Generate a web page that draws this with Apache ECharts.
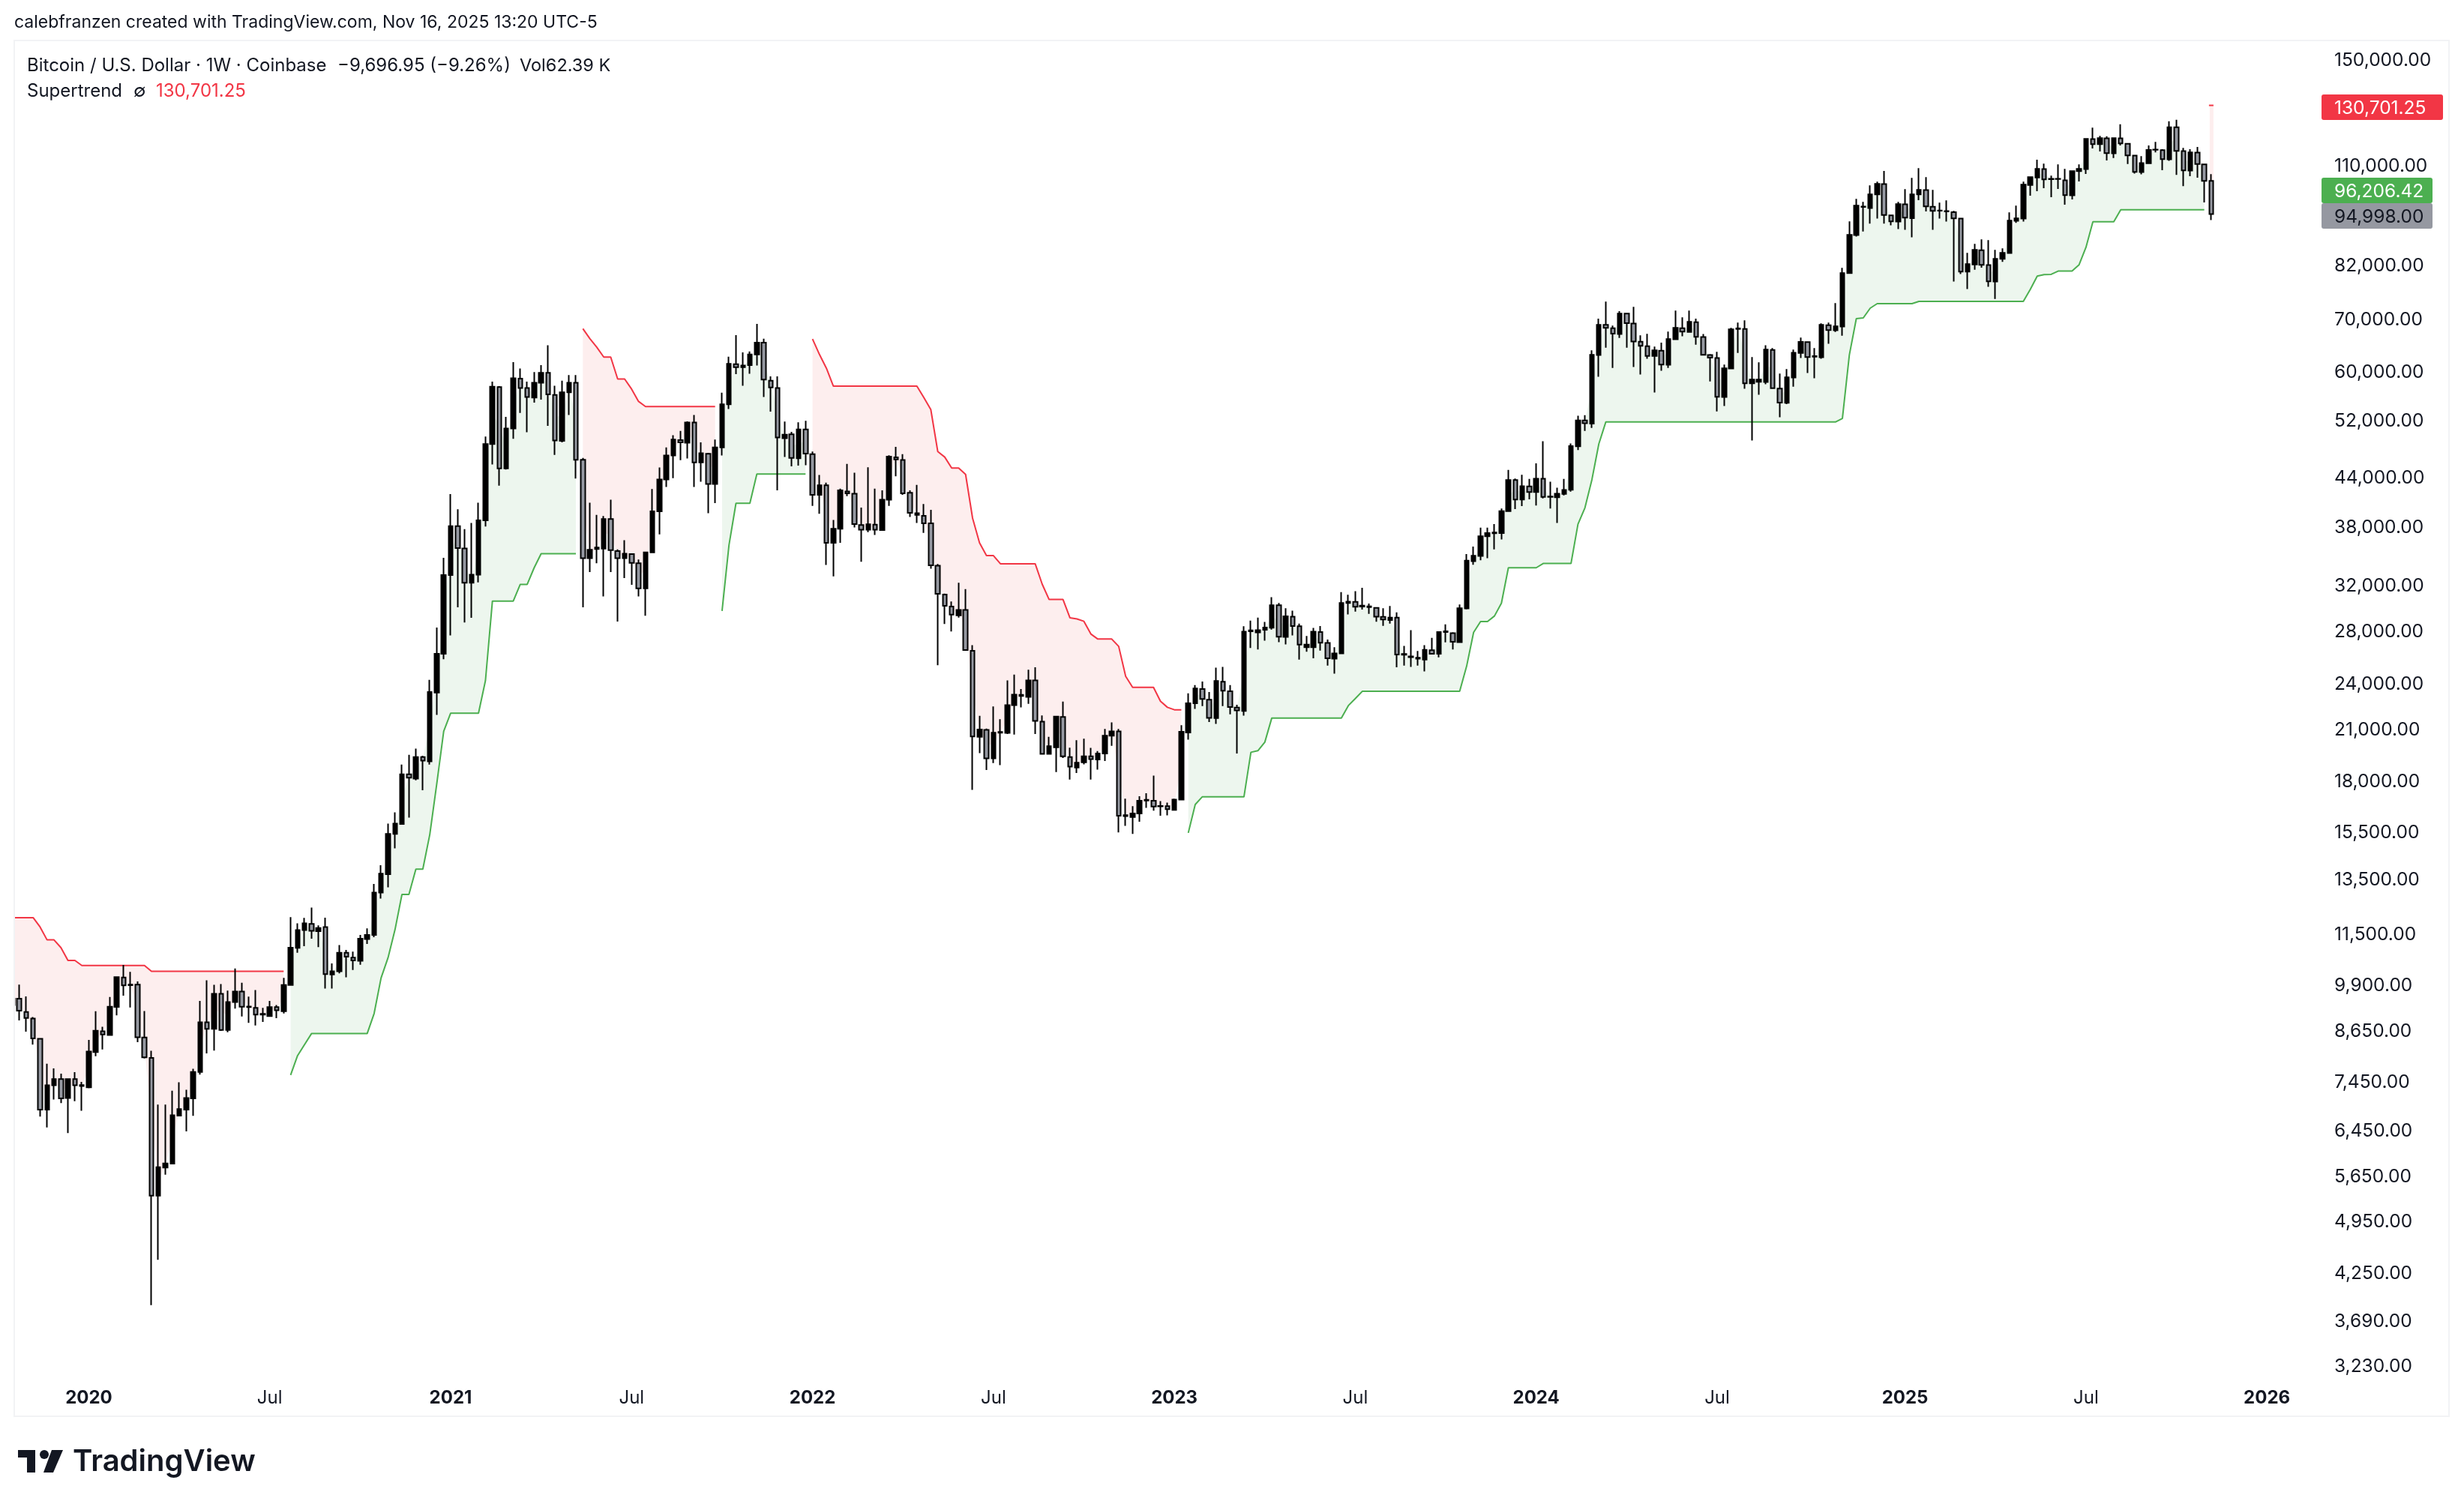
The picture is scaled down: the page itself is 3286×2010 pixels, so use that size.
<!DOCTYPE html>
<html>
<head>
<meta charset="utf-8">
<title>BTCUSD weekly</title>
<script src="https://cdn.jsdelivr.net/npm/echarts@6/dist/echarts.min.js"></script>
<style>
  html, body { margin: 0; padding: 0; background: #fff; }
  #chart { width: 3286px; height: 2010px; }
</style>
</head>
<body>
<div id="chart"></div>
<script>
// weekly candles: [open, close, low, high]
// the first week sits just outside the frame, only its supertrend shows
const candles = [
  [9300,9475,9100,9600],
  [9475,9146,8890,9875],[9110,8950,8600,9535],[8935,8430,8280,8975],[8420,6840,6700,8420],[6840,7345,6490,7825],
  [7345,7480,7045,7720],[7480,7070,6970,7600],[7075,7480,6385,7480],[7480,7345,7010,7635],[7330,7350,6815,7420],
  [7300,8110,7280,8395],[8100,8625,8000,9130],[8610,8530,8160,8725],[8515,9255,8510,9520],[9250,10095,9020,10110],
  [10085,9850,9557,10460],[9855,9875,9230,10250],[9875,8460,8340,9965],[8455,7975,7950,9135],[7960,5310,3850,8130],
  [5310,5775,4400,6940],[5770,5840,5650,6940],[5835,6725,5835,7230],[6720,6850,6710,7410],[6840,7075,6415,7250],
  [7070,7640,6715,7710],[7640,8840,7580,9410],[8840,8670,8065,10000],[8670,9610,8135,9870],[9610,8640,8620,9890],
  [8640,9380,8585,9700],[9380,9675,9200,10350],[9675,9255,8990,9930],[9240,9260,8825,9530],[9220,9040,8755,9715],
  [9040,9060,8850,9220],[9000,9240,8990,9410],[9240,9155,8945,9300],[9130,9865,9070,10070],[9865,11005,9860,12040],
  [11000,11590,10845,11820],[11590,11820,11055,12010],[11800,11565,11300,12380],[11550,11660,11025,11750],[11690,10185,9760,12020],
  [10170,10265,9760,10510],[10270,10845,10205,11090],[10845,10720,10090,10935],[10690,10600,10310,10880],[10590,11300,10470,11425],
  [11290,11425,11130,11650],[11425,12940,11350,13270],[12940,13680,12710,14020],[13660,15375,13140,15845],[15375,15845,14735,16375],
  [15825,18315,15790,18850],[18315,18130,16125,19390],[18085,19270,17995,19755],[19270,19070,17480,19340],[19020,23320,18850,24180],
  [23290,26090,21810,28190],[26090,32885,25690,34595],[32885,37980,27550,41715],[37980,35610,29910,39890],[35560,32150,28615,37640],
  [32150,32925,29010,38320],[32925,38620,32190,40680],[38620,48330,37930,49400],[48330,57200,45500,58060],[57130,44990,42770,57300],
  [44990,50600,44830,52350],[50600,58630,49080,61480],[58560,56990,52960,60330],[56990,55485,50030,58060],[55410,57850,54570,59720],
  [57850,59570,55050,60940],[59570,55915,50980,64590],[55840,48830,46800,57350],[48770,56270,48580,58200],[56270,57850,52620,59180],
  [57850,46150,43660,59180],[46150,34550,29910,46390],[34550,35420,33170,40680],[35500,35650,34040,39255],[35550,38770,30890,39110],
  [38770,35380,33170,41030],[35290,34550,28690,35470],[34550,35020,32600,36440],[34980,34080,31950,35050],[34040,31620,30890,34430],
  [31620,35150,29190,35200],[35150,39650,35100,42340],[39650,43550,37070,45100],[43550,46740,42600,47860],[46740,48960,43710,49590],
  [48900,48580,46090,50220],[48520,51480,46320,51670],[51480,45790,42600,52620],[45790,47030,43270,48580],[46970,42990,39450,47100],
  [42990,47860,40630,48960],[47860,54300,46740,56200],[54300,61170,53570,62470],[61090,60560,59340,66540],[60560,60870,57350,63270],
  [60940,62870,59420,63430],[62870,65080,60870,68800],[65080,58420,55490,65870],[58200,57060,53150,58940],[56990,49280,42170,58940],
  [49170,49670,46525,51625],[49720,46385,45265,50080],[46340,50440,45360,51520],[50440,46990,45410,51730],[46900,41630,40290,47270],
  [41630,42810,39380,44120],[42810,36150,33880,43150],[36150,37680,32760,38660],[37680,42180,36150,42390],[42050,41800,41460,45590],
  [41760,38210,37830,44430],[38100,37570,34190,40090],[37570,38170,37300,45130],[38130,37570,37000,42390],[37530,41040,37450,42180],
  [41040,46570,40290,46760],[46480,46200,43960,47930],[46110,41800,41630,46900],[41880,39480,39010,42180],[39250,39440,38320,42850],
  [39130,38280,37220,40530],[38280,33840,33500,39830],[33810,31120,25240,33980],[31050,30040,28480,31150],[29980,29280,27860,30430],
  [29220,29690,29020,32160],[29690,26390,26330,31550],[26330,20470,17500,26760],[20450,20890,19490,21750],[20870,19190,18550,20950],
  [19190,20700,18930,22360],[20700,20740,18820,21530],[20680,22440,20620,24130],[22440,23150,20580,24550],[23050,23130,22290,23530],
  [22990,24130,22530,24900],[24130,21430,20620,25080],[21380,19450,19430,21770],[19450,19890,19410,20450],[19830,21700,18440,21750],
  [21680,19310,19210,22680],[19270,18730,18030,19810],[18680,18950,18390,20250],[18970,19310,18860,20330],[19310,19150,18030,19790],
  [19130,19470,18570,19610],[19470,20510,19050,20930],[20510,20780,19910,21330],[20780,16220,15440,20930],[16200,16240,15740,17050],
  [16150,16320,15370,16680],[16320,16950,15930,17170],[16960,16990,16600,17320],[16950,16660,16460,18240],[16670,16690,16220,16930],
  [16680,16530,16230,16850],[16500,17000,16460,17050],[17000,20750,16990,21160],[20710,22570,20280,23230],[22570,23570,22190,23800],
  [23530,22850,22380,24050],[22800,21620,21360,23320],[21600,24100,21240,25050],[24040,23420,22380,25110],[23380,22320,21850,23800],
  [22280,22100,19470,22470],[22060,27850,21760,28290],[27880,27950,26540,28770],[27780,27970,26430,29020],[28000,28190,27120,28650],
  [28170,30090,28020,30825],[30090,27440,27010,30290],[27420,29130,26830,29840],[29100,28310,27550,29620],[28290,26810,25660,28510],
  [26610,26810,26250,27500],[26610,27850,25750,28160],[27820,26960,26340,28310],[26940,25750,25200,27210],[25730,26130,24620,26610],
  [26130,30290,26100,31280],[30290,30420,29300,31040],[30400,29960,29540,31360],[29980,30060,29720,31680],[29930,29990,29350,30240],
  [29860,29100,28670,29910],[29080,28870,28330,29840],[28820,29020,28520,30030],[29020,26040,25080,29470],[26030,26080,25200,26700],
  [25840,25900,25110,27970],[25730,25790,25200,26320],[25660,26400,24780,26760],[26370,26100,26050,27340],[26100,27820,25820,27870],
  [27820,27880,26990,28460],[27730,27030,26430,27800],[27010,29840,26990,30160],[29810,34320,29740,34980],[34260,34810,33890,35760],
  [34780,36860,34350,37800],[36860,37210,34550,37800],[37180,37260,35460,38210],[37210,39690,36520,39980],[39690,43490,39650,44790],
  [43490,41060,39920,43680],[41060,42700,40270,44160],[42670,41970,41090,43620],[41970,43640,40340,45670],[43640,41370,41190,48720],
  [41370,41420,39990,43260],[41320,41770,38320,42510],[41740,42220,41560,43620],[42260,48040,42010,48400],[48000,51800,47470,52520],
  [51800,51380,50220,52600],[51320,62810,50670,63650],[62760,68580,58880,69850],[68580,67980,64150,73450],[67930,66850,60450,68430],
  [66750,70880,66010,71410],[70880,68940,64150,71000],[68840,65330,60600,72300],[65280,64480,59270,66500],[64430,62610,62080,66800],
  [62610,63630,56220,64340],[63580,61030,59930,65080],[60990,65780,60450,67240],[65730,67980,65680,71510],[67930,67240,66310,70110],
  [67190,69190,67150,71510],[69140,66220,64720,69850],[66170,62810,62760,66750],[62760,62300,58100,62950],[62210,55520,53200,63370],
  [55480,60380,54040,61030],[60330,67680,60290,67980],[67780,67880,63160,69040],[67780,57760,56840,69500],[57760,58400,48840,62390],
  [58020,58400,55850,61440],[57980,63770,57600,64610],[63720,56930,56840,64050],[56880,54580,52290,59440],[54540,58800,54350,60230],
  [58760,63200,57210,63770],[63160,65250,62210,66060],[65200,62390,59530,65260],[62480,62560,58620,64060],[62350,68580,62080,68890],
  [68530,67540,64880,69040],[67490,68280,67190,73100],[68250,79860,66450,81090],[79860,89360,79800,92960],[89300,97360,88900,99300],
  [97000,97080,90260,98430],[96650,100620,92370,103300],[100620,103780,93710,104470],[103700,94700,92370,107800],[94620,92960,91890,94700],
  [92900,97780,90860,98430],[97710,93990,90660,102200],[93850,100620,88700,105620],[100620,101970,98940,108700],[101900,97130,95720,105850],
  [97060,95860,90660,101970],[95900,96000,93710,98220],[95730,95800,92900,98870],[95520,93780,77880,95860],[93710,80210,79620,93780],
  [80210,81990,76190,84750],[81920,85490,80670,87020],[85420,81810,81150,88180],[81750,77930,76690,87980],[77880,83260,74000,85490],
  [83260,84750,82550,85870],[84690,93160,84640,95460],[93110,93780,92560,97360],[93710,103530,92900,104470],[103450,105850,100260,106100],
  [105770,108460,101590,111430],[108380,105150,102480,110150],[105230,105320,99820,106320],[105250,105350,102250,109900],[104850,100410,97640,108460],
  [100340,107750,99140,108000],[107750,108460,104540,109900],[108380,118460,106880,118720],[118380,116620,115190,122420],[116620,118720,114170,119500],
  [118630,113580,111150,119340],[113500,118720,111950,118800],[118630,116880,116200,123650],[116790,112830,109990,116880],[112750,107500,106950,112900],
  [107430,110340,106720,112580],[110260,114680,110000,116200],[114700,114800,113830,117400],[114600,111600,108060,114920],[111520,122580,111030,124760],
  [122580,114340,106550,125320],[114260,107990,103080,115360],[107900,113830,106170,114920],[113750,109990,105700,115690],[109900,104695,98280,110150],
  [104695,94998,93300,106800]
];

const n = null;
// supertrend, one value per candle, n where the other side is active
const trendDown = [
  12020,
  12020,12020,12020,11695,11260,11260,11005,10600,10600,10445,
  10445,10445,10445,10445,10445,10445,10445,10445,10445,
  10265,10265,10265,10265,10265,10265,10265,10265,10265,10265,
  10265,10265,10265,10265,10265,10265,10265,10265,10265,10265,
  n,n,n,n,n,n,n,n,n,n,n,n,n,n,n,n,n,n,n,n,n,n,n,n,n,n,n,n,n,n,n,n,n,n,n,n,n,n,n,n,n,n,
  67820,65870,64230,62390,62390,58500,58500,56800,54770,53960,
  53960,53960,53960,53960,53960,53960,53960,53960,53960,53960,
  n,n,n,n,n,n,n,n,n,n,n,n,n,
  65800,62870,60370,57280,57280,57280,57280,57280,57280,57280,57280,57280,57280,57280,57280,57280,
  55400,53480,47270,46510,45030,45030,44200,38880,36160,34820,34820,
  34000,34000,34000,34000,34000,34000,32030,30610,30610,30610,
  29000,28910,28710,27660,27250,27250,27250,26670,24430,23650,23650,23650,23650,22700,22300,22140,22140,
  n,n,n,n,n,n,n,n,n,n,n,n,n,n,n,n,n,n,n,n,n,n,n,n,n,n,n,n,n,n,n,n,n,n,n,n,n,n,n,n,n,n,n,n,n,n,n,n,n,n,
  n,n,n,n,n,n,n,n,n,n,n,n,n,n,n,n,n,n,n,n,n,n,n,n,n,n,n,n,n,n,n,n,n,n,n,n,n,n,n,n,n,n,n,n,n,n,n,n,n,n,
  n,n,n,n,n,n,n,n,n,n,n,n,n,n,n,n,n,n,n,n,n,n,n,n,n,n,n,n,n,n,n,n,n,n,n,n,n,n,n,n,n,n,n,n,n,n,n,
  130701.25
];
const trendUp = [
  n,
  n,n,n,n,n,n,n,n,n,n,n,n,n,n,n,n,n,n,n,n,n,n,n,n,n,n,n,n,n,n,n,n,n,n,n,n,n,n,n,
  7570,8015,8280,8550,8550,8550,8550,8550,8550,8550,8550,8550,
  9070,10070,10685,11600,12870,12870,13860,13860,15345,17800,20780,21920,21920,21920,21920,21920,
  24120,30470,30470,30470,30470,32000,32000,33600,35015,35015,35015,35015,35015,35015,
  n,n,n,n,n,n,n,n,n,n,n,n,n,n,n,n,n,n,n,n,
  29600,35920,40610,40610,40610,44260,44260,44260,44260,44260,44260,44260,44260,
  n,n,n,n,n,n,n,n,n,n,n,n,n,n,n,n,n,n,n,n,n,n,n,n,n,n,n,n,n,n,n,n,n,n,n,n,n,n,n,n,n,n,n,n,n,n,n,n,n,n,n,n,n,n,
  15420,16760,17140,17140,17140,17140,17140,17140,17140,19540,19630,20130,21610,
  21610,21610,21610,21610,21610,21610,21610,21610,21610,21610,
  22410,22880,23370,23370,23370,23370,23370,23370,23370,23370,23370,23370,23370,23370,23370,23370,23370,
  25160,27790,28690,28690,29160,30280,33600,33600,33600,33600,33600,34020,34020,34020,34020,34020,
  38190,40070,43510,48350,51560,
  51560,51560,51560,51560,51560,51560,51560,51560,51560,51560,51560,
  51560,51560,51560,51560,51560,51560,51560,51560,51560,51560,51560,
  51560,51560,51560,51560,51560,51560,51560,51560,51560,51560,51560,
  52090,62790,69850,70010,72040,73000,73000,73000,73000,73000,73000,
  73490,73490,73490,73490,73490,73490,73490,73490,73490,73490,73490,73490,73490,73490,73490,73490,
  76120,79140,79490,79560,80320,80320,80320,81800,86120,92860,92860,92860,92860,
  96206,96206,96206,96206,96206,96206,96206,96206,96206,96206,96206,96206,96206,
  n
];

const priceTicks = [150000,110000,82000,70000,60000,52000,44000,38000,32000,28000,24000,21000,18000,15500,13500,11500,9900,8650,7450,6450,5650,4950,4250,3690,3230];
const timeTickDates = ['2020-01-06','2020-07-06','2021-01-04','2021-07-05','2022-01-03','2022-07-04','2023-01-02','2023-07-03','2024-01-01','2024-07-01','2025-01-06','2025-07-07','2026-01-05'];
const timeTickLabels = ['2020','Jul','2021','Jul','2022','Jul','2023','Jul','2024','Jul','2025','Jul','2026'];

const fontName = 'Inter';
const textColor = '#131722';
const slotCount = 333;

// week starts, the right part of the axis stays empty like the chart's margin
let weeks = [];
for (let i = 0; i < slotCount; i++) {
  weeks.push(new Date(Date.UTC(2019, 9, 21 + i * 7)).toISOString().slice(0, 10));
}

// one [first, last] pair for each unbroken run of a supertrend line
function runs(line) {
  let out = [];
  let start = -1;
  line.forEach((v, i) => {
    if (v != null && start < 0) start = i;
    if (v != null && (i === line.length - 1 || line[i + 1] == null)) {
      out.push([start, i]);
      start = -1;
    }
  });
  return out;
}

// shaded band between the line and the middle of the candle bodies
function bandSeries(name, line, fillColor, lineColor) {
  return {
    name: name,
    type: 'custom',
    silent: true,
    z: 1,
    data: runs(line),
    encode: { x: 0 },
    renderItem(params, api) {
      let first = api.value(0);
      let last = api.value(1);
      if (first === last) {  // a run of one week is only a short mark
        let top = api.coord([first, line[first]]);
        let bottom = api.coord([first, (candles[first][0] + candles[first][1]) / 2]);
        return {
          type: 'group',
          children: [
            { type: 'rect', shape: { x: top[0] - 2, y: top[1], width: 5, height: bottom[1] - top[1] }, style: { fill: fillColor } },
            { type: 'rect', shape: { x: top[0] - 3, y: top[1] - 1, width: 6, height: 2 }, style: { fill: lineColor } }
          ]
        };
      }
      let upper = [];
      let lower = [];
      for (let i = first; i <= last; i++) {
        upper.push(api.coord([i, line[i]]));
        lower.unshift(api.coord([i, (candles[i][0] + candles[i][1]) / 2]));
      }
      return { type: 'polygon', shape: { points: upper.concat(lower) }, style: { fill: fillColor } };
    }
  };
}

function lineSeries(name, line, color) {
  return {
    name: name,
    type: 'line',
    data: line,
    z: 2,
    silent: true,
    showSymbol: false,
    connectNulls: false,
    lineStyle: { color: color, width: 2 },
    animation: false
  };
}

function headText(x, y, text, color, size) {
  return {
    type: 'text', x: x, y: y, z: 20,
    style: { text: text, fill: color || textColor, font: '400 ' + (size || 24) + 'px ' + fontName, textVerticalAlign: 'middle' }
  };
}

function badge(x, y, w, h, fill, text, color) {
  return {
    type: 'group', z: 20,
    children: [
      { type: 'rect', shape: { x: x, y: y, width: w, height: h, r: 3 }, style: { fill: fill } },
      { type: 'text', x: 3113, y: y + h / 2 + 2, style: { text: text, fill: color, font: '400 24.5px ' + fontName, textVerticalAlign: 'middle' } }
    ]
  };
}

let chart = echarts.init(document.getElementById('chart'), null, { renderer: 'canvas' });
chart.setOption({
  animation: false,
  backgroundColor: '#fff',
  grid: { left: 11.72, right: 184, top: 54, bottom: 121 },
  xAxis: {
    type: 'category',
    data: weeks,
    boundaryGap: true,
    axisLine: { show: false },
    axisTick: { show: false },
    splitLine: { show: false },
    axisLabel: {
      inside: true,
      margin: 12,
      interval: (i, value) => timeTickDates.includes(value),
      formatter: value => {
        let label = timeTickLabels[timeTickDates.indexOf(value)];
        return label === 'Jul' ? '{month|Jul}' : '{year|' + label + '}';
      },
      rich: {
        year: { fontFamily: fontName, fontSize: 24, fontWeight: 700, color: textColor },
        month: { fontFamily: fontName, fontSize: 24, fontWeight: 400, color: textColor }
      }
    }
  },
  yAxis: {
    type: 'log',
    logBase: 10,
    min: 2778,
    max: 158150,
    position: 'right',
    axisLine: { show: false },
    axisTick: { show: false },
    splitLine: { show: false },
    axisLabel: { show: false }
  },
  series: [
    bandSeries('Supertrend down fill', trendDown, '#fdeeee', '#f23645'),
    bandSeries('Supertrend up fill', trendUp, '#edf6ee', '#4caf50'),
    lineSeries('Supertrend down', trendDown, '#f23645'),
    lineSeries('Supertrend up', trendUp, '#4caf50'),
    {
      name: 'BTCUSD',
      type: 'candlestick',
      data: candles,
      z: 5,
      barWidth: 6,
      silent: true,
      itemStyle: {
        color: '#000000',
        color0: '#9598a1',
        borderColor: '#000000',
        borderColor0: '#000000',
        borderWidth: 2
      }
    },
    {
      // price scale labels
      name: 'Price labels',
      type: 'custom',
      silent: true,
      clip: false,
      z: 6,
      data: priceTicks,
      encode: { y: 0 },
      renderItem(params, api) {
        let value = api.value(0);
        return {
          type: 'text',
          x: 3113,
          y: api.coord([0, value])[1] + 2.5,
          style: {
            text: value.toLocaleString('en-US', { minimumFractionDigits: 2 }),
            fill: textColor,
            font: '400 24.5px ' + fontName,
            textVerticalAlign: 'middle'
          }
        };
      }
    }
  ],
  graphic: [
    // the week before the first visible one stays behind this strip
    { type: 'rect', z: 15, shape: { x: 0, y: 54, width: 19, height: 1835 }, style: { fill: '#fff' } },
    { type: 'rect', z: 16, shape: { x: 19, y: 54, width: 3247, height: 1835 }, style: { fill: 'none', stroke: '#f2f3f5', lineWidth: 2 } },
    headText(19, 30, 'calebfranzen created with TradingView.com, Nov 16, 2025 13:20 UTC-5', textColor, 23),
    headText(36, 88, 'Bitcoin / U.S. Dollar · 1W · Coinbase'),
    headText(450, 88, '−9,696.95 (−9.26%)'),
    headText(693, 88, 'Vol62.39 K', textColor, 23.5),
    headText(36, 122, 'Supertrend'),
    headText(178, 122, '∅'),
    headText(208, 122, '130,701.25', '#f23645'),
    badge(3096, 126, 162, 34, '#f23645', '130,701.25', '#ffffff'),
    badge(3096, 237, 148, 34, '#4caf50', '96,206.42', '#ffffff'),
    badge(3096, 271, 148, 34, '#9598a1', '94,998.00', textColor),
    // TradingView logo
    { type: 'polygon', z: 20, shape: { points: [[24, 1934], [47, 1934], [47, 1964], [36, 1964], [36, 1944], [24, 1944]] }, style: { fill: '#131722' } },
    { type: 'circle', z: 20, shape: { cx: 59, cy: 1940, r: 6 }, style: { fill: '#131722' } },
    { type: 'polygon', z: 20, shape: { points: [[69, 1934], [84, 1934], [71, 1964], [58, 1964]] }, style: { fill: '#131722' } },
    { type: 'text', x: 97, y: 1950, z: 20, style: { text: 'TradingView', fill: '#131722', font: '600 40px ' + fontName, textVerticalAlign: 'middle' } }
  ]
});
</script>
</body>
</html>
